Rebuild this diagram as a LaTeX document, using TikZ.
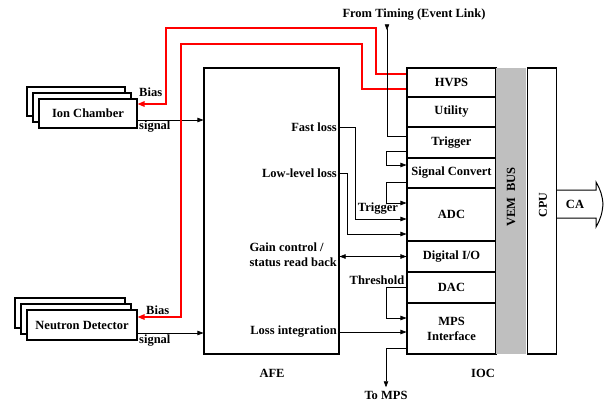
\documentclass[tikz,border=0pt]{standalone}
\usepackage{fontspec}
\setmainfont{Liberation Serif}
\usepackage{tikz}
\usetikzlibrary{arrows.meta,shadows}

\begin{document}
\begin{tikzpicture}[x=1pt,y=-1pt,
		font=\fontsize{12.5}{15}\selectfont\bfseries,
		box/.style={draw,line width=1.1pt,inner sep=0pt},
		slot/.style={box,minimum width=89pt},
		stack/.style={box,fill=white,minimum height=29pt,
			double copy shadow={shadow xshift=-6pt,shadow yshift=6pt}},
		sig/.style={line width=0.6pt,>={Triangle[length=6pt,width=4.5pt]}},
		bias/.style={draw=red,line width=1.4pt,>={Triangle[length=7pt,width=5.5pt]}},
		txt/.style={inner sep=1pt}]
		\useasboundingbox (0,0) rectangle (604,402);
		\node[slot,minimum height=29pt] (hvps) at (451.5,82.5) {HVPS};
		\node[slot,minimum height=30pt] (util) at (451.5,112) {Utility};
		\node[slot,minimum height=31pt] (trig) at (451.5,142.5) {Trigger};
		\node[slot,minimum height=30pt] (sigc) at (451.5,173) {Signal Convert};
		\node[slot,minimum height=53pt] (adc) at (451.5,214.5) {ADC};
		\node[slot,minimum height=31pt] (dio) at (451.5,256.5) {Digital I/O};
		\node[slot,minimum height=31pt] (dac) at (451.5,287.5) {DAC};
		\node[slot,minimum height=51pt,align=center] (mps) at (451.5,328.5) {MPS\\Interface};
		\node[fill=black!25,minimum width=30pt,minimum height=286pt,inner sep=0pt] (bus) at (511,211) {};
		\node[rotate=90] (bustxt) at (511,197) {VEM\ \ BUS};
		\node[box,minimum width=29pt,minimum height=286pt] (cpu) at (542,211) {};
		\node[rotate=90,font=\fontsize{12}{14}\selectfont\bfseries] (cputxt) at (543,205) {CPU};
		\node[box,minimum width=135pt,minimum height=286pt] (afe) at (271.5,211) {};
		\node (afetxt) at (272,373) {AFE};
		\node (ioctxt) at (483,373) {IOC};
		\node[stack,minimum width=98pt] (ion) at (88,113.5) {Ion Chamber};
		\node[stack,minimum width=110pt,minimum height=30pt] (neutron) at (82,325) {Neutron Detector};
		\node[txt,anchor=east] (fast) at (338,127) {Fast loss};
		\node[txt,anchor=east] (low) at (338,173) {Low-level loss};
		\node[txt,anchor=east,align=left] (gain) at (338,255) {Gain control /\\status read back};
		\node[txt,anchor=east] (lossint) at (338,332) {Loss integration};
		\node (timing) at (414,15) {From Timing (Event Link)};
		\node (tomps) at (386,395) {To MPS};
		\node (trigtxt) at (378,209) {Trigger};
		\node (thresh) at (377,280) {Threshold};
		\node[txt,anchor=west] (ionbias) at (138,92) {Bias};
		\node[txt,anchor=west] (ionsigtxt) at (138,127) {signal};
		\node[txt,anchor=west] (ndbias) at (145,310) {Bias};
		\node[txt,anchor=west] (ndsigtxt) at (138,341) {signal};
		\coordinate (col) at (387,0);
		\coordinate (ionsig) at ([yshift=-6.5pt]ion.east);
		\coordinate (ndsig) at ([yshift=-8pt]neutron.east);
		\draw[sig,->] (ionsig) -- (ionsig -| afe.west);
		\draw[sig,->] (ndsig) -- (ndsig -| afe.west);
		\draw[bias,<-] ([yshift=9.5pt]ion.east) -| (166,28) -| (376,74) -- ([yshift=8.5pt]hvps.west);
		\draw[bias,<-] ([yshift=8pt]neutron.east) -| (181,44) -| (362,89) -- ([yshift=-6.5pt]hvps.west);
		\draw[sig,{Triangle[reversed,length=6pt,width=4.5pt]}-] (col |- timing.south) |- ([yshift=6.5pt]trig.west);
		\draw[sig,->] ([yshift=-8.5pt]trig.west) -- ++(-20,0) |- ([yshift=8pt]sigc.west);
		\draw[sig,->] ([yshift=-9pt]sigc.west) -- ++(-20,0) |- ([yshift=11.5pt]adc.west);
		\draw[sig,->] (fast.east -| afe.east) -- ++(16,0) |- ([yshift=-4.5pt]adc.west);
		\draw[sig,->] (low.east -| afe.east) -- ++(8,0) |- ([yshift=-19.5pt]adc.west);
		\draw[sig,<->] (afe.east |- dio.west) -- (dio.west);
		\draw[sig,->] (dac.west) -- ++(-20,0) |- ([yshift=10.5pt]mps.west);
		\draw[sig,->] (lossint.east -| afe.east) -- (lossint.east -| mps.west);
		\draw[sig,->] ([yshift=-19.5pt]mps.west) -| (tomps.north);
		\draw[line width=1pt] (557,190) -- (596,190) -- (596,182) to[out=-60,in=95] (603,204)
			to[out=-95,in=60] (596,227) -- (596,218) -- (557,218);
		\node (ca) at (575,204) {CA};
	\end{tikzpicture}
\end{document}
